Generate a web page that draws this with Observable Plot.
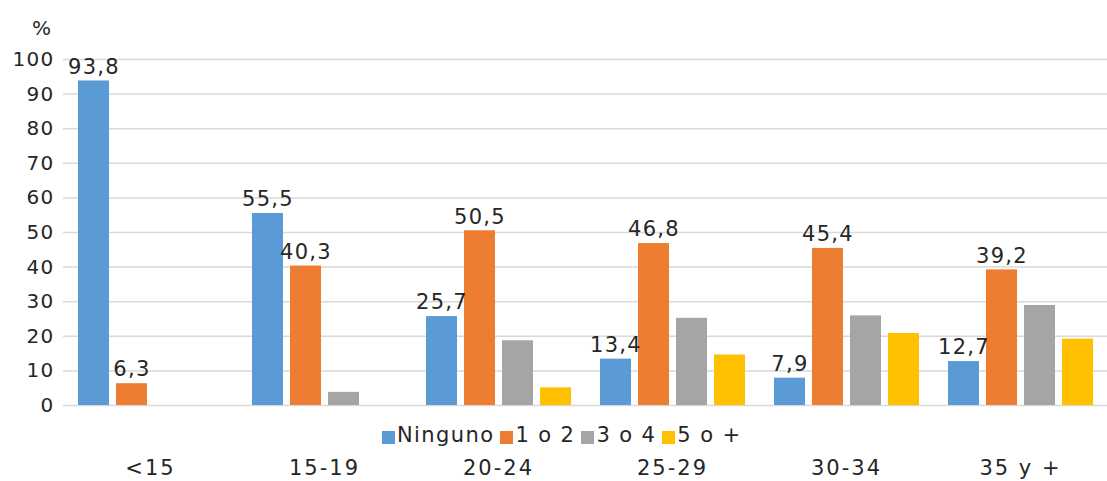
<!DOCTYPE html>
<html>
<head>
<meta charset="utf-8">
<script src="https://cdn.jsdelivr.net/npm/d3@7"></script>
<script src="https://cdn.jsdelivr.net/npm/@observablehq/plot@0.6"></script>
<style>
  body { margin: 0; background: #fff; }
  #wrap { position: relative; width: 1107px; height: 481px; font-family: "DejaVu Sans", Verdana, sans-serif; color: #262626; }
  #wrap svg text { letter-spacing: 1.3px; }
  #pct { position: absolute; left: 32px; top: 16px; font-size: 20px; }
  #legend { position: absolute; left: 382px; top: 423px; display: flex; align-items: center; font-size: 21px; letter-spacing: 1.4px; white-space: nowrap; }
  #legend .sw { display: inline-block; width: 13px; height: 13px; margin-right: 2px; margin-top: 4px; }
  #legend .it { display: flex; align-items: center; margin-right: 6px; }
</style>
</head>
<body>
<div id="wrap"></div>
<script>
const groups = ["<15", "15-19", "20-24", "25-29", "30-34", "35 y +"];
const series = ["Ninguno", "1 o 2", "3 o 4", "5 o +"];
const colors = ["#5B9BD5", "#ED7D31", "#A5A5A5", "#FFC000"];
const ninguno = [93.8, 55.5, 25.7, 13.4, 7.9, 12.7];
const unoDos = [6.3, 40.3, 50.5, 46.8, 45.4, 39.2];
const tresCuatro = [0, 3.8, 18.7, 25.2, 25.9, 28.9];
const cincoMas = [0, 0, 5.1, 14.6, 20.8, 19.2];
const yTicks = [0, 10, 20, 30, 40, 50, 60, 70, 80, 90, 100];
const labelledSeries = ["Ninguno", "1 o 2"];

const valuesBySeries = [ninguno, unoDos, tresCuatro, cincoMas];
const data = [];
groups.forEach((g, gi) => {
  series.forEach((s, si) => {
    data.push({group: g, series: s, value: valuesBySeries[si][gi]});
  });
});
const fmt = v => v.toFixed(1).replace(".", ",");

const chart = Plot.plot({
  width: 1107,
  height: 481,
  marginTop: 59,
  marginBottom: 76,
  marginLeft: 63,
  marginRight: 0,
  style: {fontFamily: "'DejaVu Sans', Verdana, sans-serif", fontSize: "20px", color: "#262626", background: "transparent"},
  fx: {domain: groups, padding: 0, label: null, axis: "bottom", tickSize: 0, tickPadding: 55},
  x: {domain: series, axis: null, paddingInner: 0.19, paddingOuter: 0.37},
  y: {domain: [0, 100], ticks: yTicks, tickSize: 0, tickPadding: 9, label: null, grid: false},
  color: {domain: series, range: colors},
  marks: [
    Plot.ruleY(yTicks, {stroke: "#d9d9d9", strokeWidth: 1.5}),
    Plot.barY(data, {fx: "group", x: "series", y: "value", fill: "series"}),
    Plot.text(data.filter(d => labelledSeries.includes(d.series)), {
      fx: "group", x: "series", y: "value", text: d => fmt(d.value),
      dy: -14, fontSize: 21, fill: "#262626"
    })
  ]
});
document.getElementById("wrap").appendChild(chart);
chart.querySelectorAll("g[aria-label='fx-axis tick label'] text").forEach(t => {
  t.setAttribute("font-size", "21");
  t.style.letterSpacing = "2px";
});

const pct = document.createElement("div");
pct.id = "pct";
pct.textContent = "%";
document.getElementById("wrap").appendChild(pct);

const legend = document.createElement("div");
legend.id = "legend";
series.forEach((s, i) => {
  const it = document.createElement("span");
  it.className = "it";
  const sw = document.createElement("span");
  sw.className = "sw";
  sw.style.background = colors[i];
  it.appendChild(sw);
  it.appendChild(document.createTextNode(s));
  legend.appendChild(it);
});
document.getElementById("wrap").appendChild(legend);
</script>
</body>
</html>
